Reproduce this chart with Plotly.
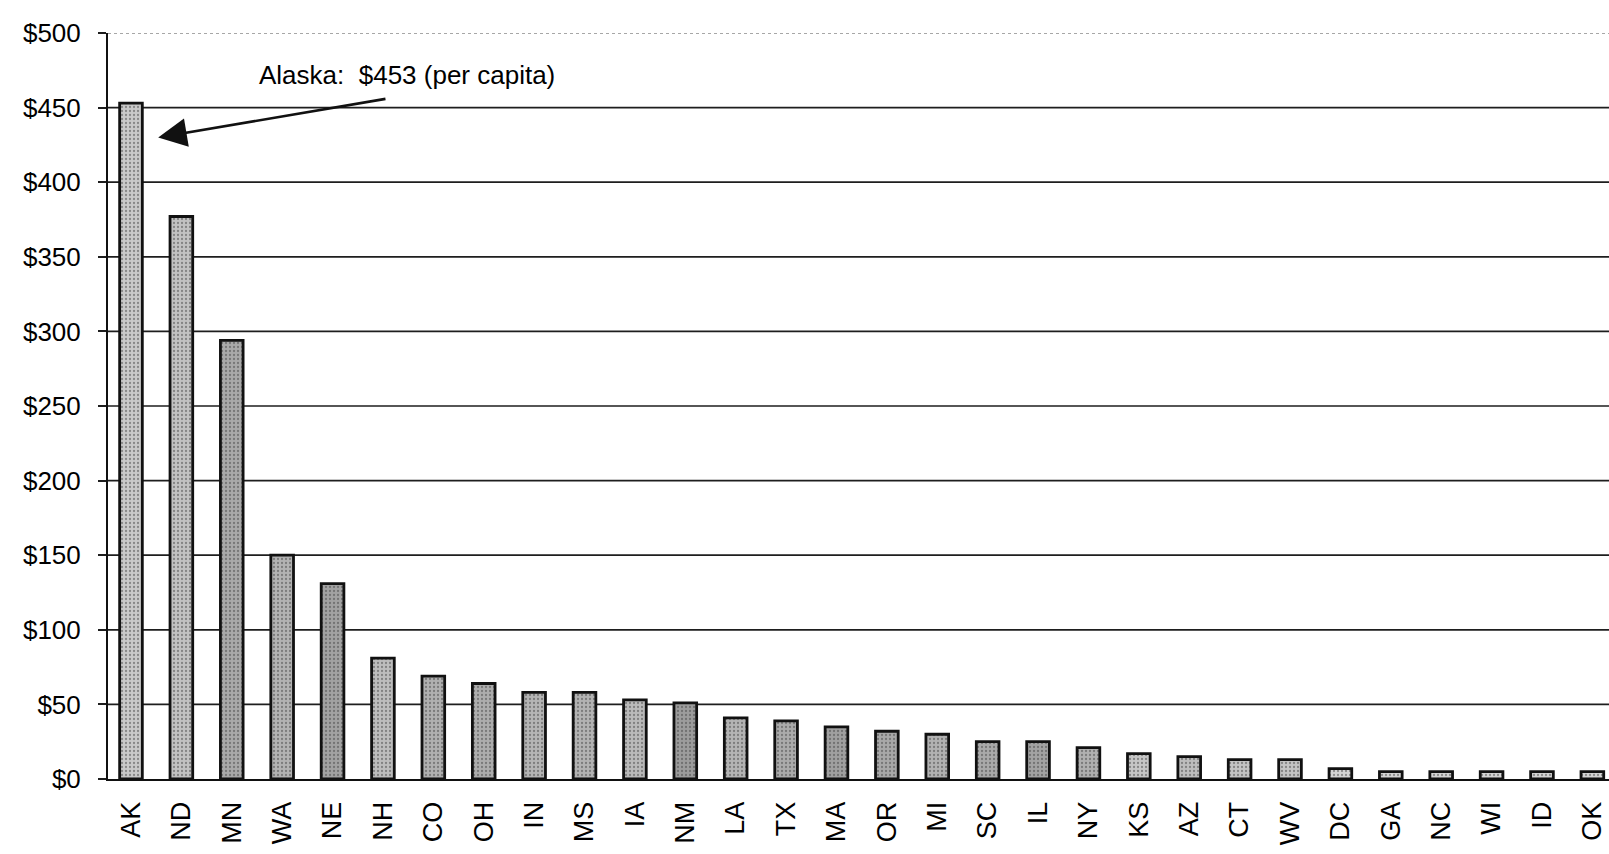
import plotly.graph_objects as go

# Per-capita spending by state, sorted high to low
states = ["AK", "ND", "MN", "WA", "NE", "NH", "CO", "OH", "IN", "MS",
          "IA", "NM", "LA", "TX", "MA", "OR", "MI", "SC", "IL", "NY",
          "KS", "AZ", "CT", "WV", "DC", "GA", "NC", "WI", "ID", "OK"]
per_capita = [453, 377, 294, 150, 131, 81, 69, 64, 58, 58,
              53, 51, 41, 39, 35, 32, 30, 25, 25, 21,
              17, 15, 13, 13, 7, 5, 5, 5, 5, 5]

y_ticks = [0, 50, 100, 150, 200, 250, 300, 350, 400, 450, 500]
y_tick_text = ["$" + str(v) for v in y_ticks]

callout_text = "Alaska:  $453 (per capita)"

# Bar fill shades (speckled gray halftone look)
shades = ["#c9c9c9", "#c2c2c2", "#a9a9a9", "#b3b3b3", "#a2a2a2", "#bdbdbd",
          "#b0b0b0", "#adadad", "#b5b5b5", "#b3b3b3", "#bababa", "#9c9c9c",
          "#b4b4b4", "#ababab", "#a0a0a0", "#a8a8a8", "#b2b2b2", "#a9a9a9",
          "#a3a3a3", "#b0b0b0", "#c6c6c6", "#bdbdbd", "#c4c4c4", "#c4c4c4",
          "#d5d5d5", "#d5d5d5", "#d5d5d5", "#d5d5d5", "#d5d5d5", "#d5d5d5"]

FONT = "Liberation Sans, Arial, sans-serif"

fig = go.Figure()
fig.add_trace(go.Bar(
    x=states,
    y=per_capita,
    width=0.45,
    marker=dict(
        color=shades,
        line=dict(color="#111111", width=2.8),
        pattern=dict(shape=".", fgcolor="#7a7a7a", size=4, solidity=0.25,
                     fillmode="overlay"),
    ),
    showlegend=False,
))

# Horizontal grid: solid rules, faint dotted rule along the top
shapes = []
for v in y_ticks[1:]:
    top = v == y_ticks[-1]
    shapes.append(dict(
        type="line", xref="paper", yref="y", x0=0, x1=1, y0=v, y1=v,
        layer="below",
        line=dict(color="#8a8a8a" if top else "#1e1e1e",
                  width=1.3 if top else 1.7,
                  dash="dot" if top else "solid"),
    ))

fig.update_layout(
    width=1609, height=854,
    margin=dict(l=108, r=0, t=33, b=75),
    paper_bgcolor="white", plot_bgcolor="white",
    font=dict(family=FONT, color="black"),
    shapes=shapes,
    annotations=[
        dict(x=2.5, y=472, xref="x", yref="y", text=callout_text,
             showarrow=False, xanchor="left", yanchor="middle",
             font=dict(family=FONT, size=26, color="black")),
        dict(x=0.54, y=430, ax=5.08, ay=456, xref="x", yref="y",
             axref="x", ayref="y", text="", showarrow=True,
             arrowhead=2, arrowsize=2.2, arrowwidth=2.6,
             arrowcolor="#111111"),
    ],
)

fig.update_xaxes(
    type="category",
    range=[-0.456, 29.33],
    tickangle=-90,
    tickfont=dict(family=FONT, size=27, color="black"),
    ticks="",
    ticklabelstandoff=10,
    showline=True, linecolor="#111111", linewidth=2,
    showgrid=False, zeroline=False,
)
fig.update_yaxes(
    range=[0, 500],
    tickvals=y_ticks,
    ticktext=y_tick_text,
    tickfont=dict(family=FONT, size=26, color="black"),
    ticks="outside", ticklen=8, tickwidth=1.7, tickcolor="#1e1e1e",
    ticklabelstandoff=12,
    showline=True, linecolor="#111111", linewidth=2,
    showgrid=False, zeroline=False,
)

fig.write_html("out.html")
